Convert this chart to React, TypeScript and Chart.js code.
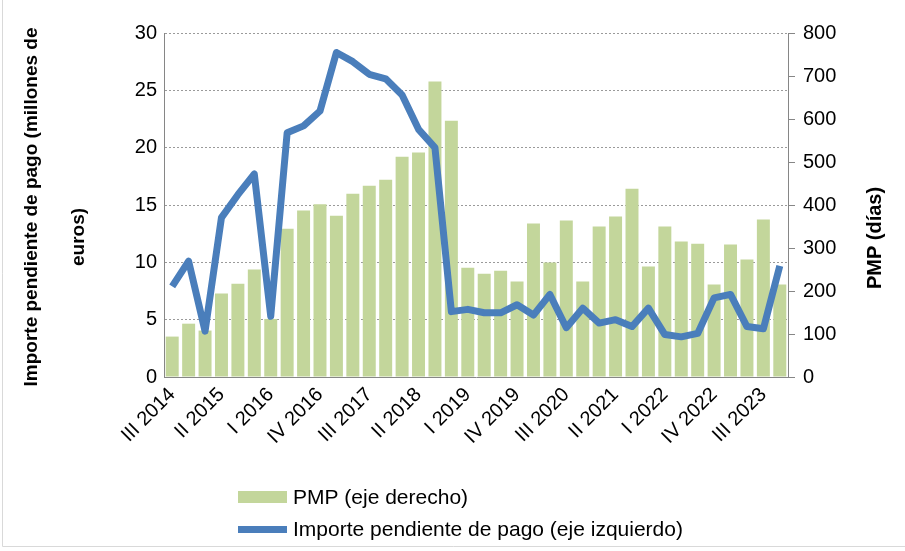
import React, { useEffect, useRef } from "react";
import { Chart, registerables } from "chart.js";

Chart.register(...registerables);

const quarters = [
  "III 2014", "IV 2014",
  "I 2015", "II 2015", "III 2015", "IV 2015",
  "I 2016", "II 2016", "III 2016", "IV 2016",
  "I 2017", "II 2017", "III 2017", "IV 2017",
  "I 2018", "II 2018", "III 2018", "IV 2018",
  "I 2019", "II 2019", "III 2019", "IV 2019",
  "I 2020", "II 2020", "III 2020", "IV 2020",
  "I 2021", "II 2021", "III 2021", "IV 2021",
  "I 2022", "II 2022", "III 2022", "IV 2022",
  "I 2023", "II 2023", "III 2023", "IV 2023",
];

const pmpDias = [
  94, 124, 108, 194, 217, 250, 135, 345, 387, 402, 375, 426, 445, 459, 512, 522, 687, 596,
  254, 240, 247, 222, 357, 266, 364, 222, 350, 373, 438, 257, 350, 315, 310, 215, 308, 273,
  366, 215,
];

const importeMillones = [
  7.9, 10.1, 4.0, 13.9, 15.9, 17.7, 5.3, 21.3, 21.9, 23.2, 28.3, 27.5, 26.4, 26.0, 24.6, 21.6,
  20.0, 5.7, 5.9, 5.6, 5.6, 6.3, 5.4, 7.2, 4.3, 6.0, 4.7, 5.0, 4.4, 6.0, 3.7, 3.5, 3.8, 6.9,
  7.2, 4.4, 4.2, 9.7,
];

const leftTitle1 = "Importe pendiente de pago (millones de";
const leftTitle2 = "euros)";
const rightTitle = "PMP (días)";
const legendPmp = "PMP (eje derecho)";
const legendImporte = "Importe pendiente de pago (eje izquierdo)";

const FONT = '"Liberation Sans", Arial, Helvetica, sans-serif';
const GREEN = "#c3d69b";
const BLUE = "#4a7ebb";
const AXIS = "#868686";

export default function App() {
  const ref = useRef<HTMLCanvasElement>(null);

  useEffect(() => {
    if (!ref.current) return;

    const decor = {
      id: "decor",
      afterDraw(chart: any) {
        const ctx = chart.ctx as CanvasRenderingContext2D;
        ctx.save();
        // frame
        ctx.strokeStyle = "#d9d9d9";
        ctx.lineWidth = 1;
        ctx.beginPath();
        ctx.moveTo(2.5, 0);
        ctx.lineTo(2.5, 546.5);
        ctx.lineTo(905, 546.5);
        ctx.stroke();

        // axis titles
        ctx.fillStyle = "#000";
        ctx.textAlign = "center";
        ctx.textBaseline = "middle";
        const rot = (t: string, x: number, y: number) => {
          ctx.save();
          ctx.translate(x, y);
          ctx.rotate(-Math.PI / 2);
          ctx.fillText(t, 0, 0);
          ctx.restore();
        };
        ctx.font = `bold 19px ${FONT}`;
        rot(leftTitle1, 32, 207);
        rot(leftTitle2, 79, 237);
        ctx.font = `bold 20px ${FONT}`;
        rot(rightTitle, 875, 238);

        // legend
        ctx.font = `21px ${FONT}`;
        ctx.textAlign = "left";
        ctx.textBaseline = "alphabetic";
        ctx.fillStyle = GREEN;
        ctx.fillRect(238, 491, 49, 12);
        ctx.fillStyle = BLUE;
        ctx.fillRect(238, 526, 49, 7);
        ctx.fillStyle = "#000";
        ctx.fillText(legendPmp, 293, 504);
        ctx.fillText(legendImporte, 293, 536);
        ctx.restore();
      },
    };

    const chart = new Chart(ref.current, {
      type: "bar",
      data: {
        labels: quarters,
        datasets: [
          {
            type: "line",
            label: legendImporte,
            data: importeMillones,
            yAxisID: "y",
            borderColor: BLUE,
            backgroundColor: BLUE,
            borderWidth: 7,
            pointRadius: 0,
            tension: 0,
            borderJoinStyle: "round",
            borderCapStyle: "butt",
            order: 0,
          } as any,
          {
            type: "bar",
            label: legendPmp,
            data: pmpDias,
            yAxisID: "y1",
            backgroundColor: GREEN,
            borderWidth: 0,
            categoryPercentage: 1,
            barPercentage: 0.79,
            order: 1,
          } as any,
        ],
      },
      options: {
        responsive: false,
        animation: false,
        devicePixelRatio: 1,
        layout: { padding: { top: 33, left: 0, right: 0, bottom: 0 } },
        plugins: {
          legend: { display: false },
          tooltip: { enabled: false },
          title: { display: false },
        },
        scales: {
          x: {
            position: "bottom",
            grid: { display: false, drawTicks: false },
            border: { display: true, color: AXIS, width: 1 },
            ticks: {
              autoSkip: false,
              minRotation: 45,
              maxRotation: 45,
              padding: 6,
              color: "#000",
              font: { family: FONT, size: 20 },
              callback: (_v: any, i: number) => (i % 3 === 0 ? quarters[i] : ""),
            },
            afterFit: (s: any) => {
              s.height = 551 - 33 - 344;
            },
          },
          y: {
            position: "left",
            min: 0,
            max: 30,
            ticks: {
              stepSize: 5,
              padding: 7,
              color: "#000",
              font: { family: FONT, size: 20 },
            },
            grid: { color: "#9a9a9a", lineWidth: 1, drawTicks: false },
            border: { display: true, color: AXIS, width: 1, dash: [2, 2] },
            afterFit: (s: any) => {
              s.width = 164;
            },
          },
          y1: {
            position: "right",
            min: 0,
            max: 800,
            ticks: {
              stepSize: 100,
              padding: 8,
              color: "#000",
              font: { family: FONT, size: 20 },
            },
            grid: { drawOnChartArea: false, drawTicks: true, tickLength: 7, color: AXIS },
            border: { display: true, color: AXIS, width: 1 },
            afterFit: (s: any) => {
              s.width = 905 - 788;
            },
          },
        },
      },
      plugins: [decor],
    });

    return () => chart.destroy();
  }, []);

  return (
    <div
      style={{
        position: "fixed",
        left: 0,
        top: 0,
        width: 905,
        height: 551,
        background: "#fff",
      }}
    >
      <canvas ref={ref} width={905} height={551} style={{ display: "block" }} />
    </div>
  );
}
